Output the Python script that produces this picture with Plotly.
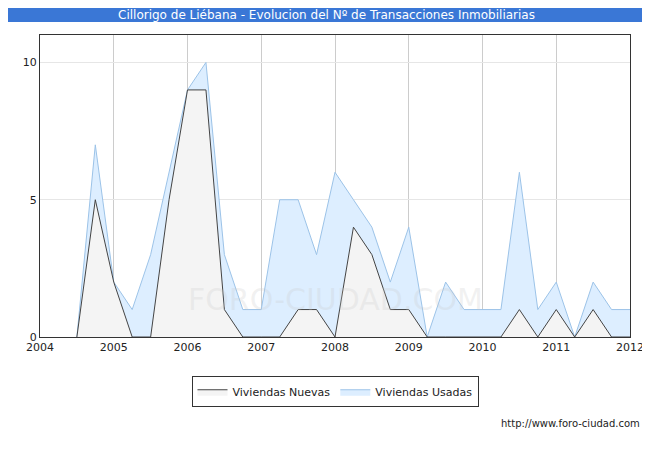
import plotly.graph_objects as go

quarters = [2004.5 + 0.25 * i for i in range(31)]
usadas = [0, 7, 2, 1, 3, 6, 9, 10, 3, 1, 1, 5, 5, 3, 6, 5, 4, 2, 4, 0, 2, 1, 1, 1, 6, 1, 2, 0, 2, 1, 1]
nuevas = [0, 5, 2, 0, 0, 5, 9, 9, 1, 0, 0, 0, 1, 1, 0, 4, 3, 1, 1, 0, 0, 0, 0, 0, 1, 0, 1, 0, 1, 0, 0]
year_ticks = list(range(2004, 2013))

fig = go.Figure()
fig.add_trace(go.Scatter(
    x=quarters, y=usadas, name="Viviendas Usadas", mode="lines",
    fill="tozeroy", fillcolor="#ddeeff", line=dict(color="#9cc3e8", width=1)
))
fig.add_trace(go.Scatter(
    x=quarters, y=nuevas, name="Viviendas Nuevas", mode="lines",
    fill="tozeroy", fillcolor="#f4f4f4", line=dict(color="#444444", width=1)
))

fig.update_layout(
    width=650, height=450,
    margin=dict(l=32, r=28, t=27, b=121),
    paper_bgcolor="white", plot_bgcolor="white",
    font=dict(family="DejaVu Sans", size=11, color="#222222"),
    showlegend=True,
    legend=dict(orientation="h", x=0.5, xanchor="center", y=-0.13, yanchor="top",
                bordercolor="#333333", borderwidth=1, traceorder="reversed",
                font=dict(size=11)),
    shapes=[dict(type="rect", xref="paper", yref="paper", x0=-0.06, x1=1.06,
                 y0=1.043, y1=1.1, fillcolor="#3a77d6", line=dict(width=0), layer="below")],
    annotations=[
        dict(text="Cillorigo de Liébana - Evolucion del Nº de Transacciones Inmobiliarias",
             xref="paper", yref="paper", x=0.485, y=1.066, showarrow=False,
             font=dict(color="white", size=12), yanchor="middle"),
        dict(text="http://www.foro-ciudad.com", xref="paper", yref="paper",
             x=1.02, y=-0.31, showarrow=False, xanchor="right",
             font=dict(size=10, color="#222222")),
        dict(text="FORO-CIUDAD.COM", xref="paper", yref="paper", x=0.5, y=0.06,
             showarrow=False, font=dict(size=30, color="rgba(200,200,200,0.25)")),
    ],
)
fig.update_xaxes(range=[2004, 2012], tickvals=year_ticks, ticktext=[str(y) for y in year_ticks],
                 showgrid=True, gridcolor="#cccccc", showline=True, linecolor="#333333",
                 mirror=True, zeroline=False, ticks="", fixedrange=True)
fig.update_yaxes(range=[0, 11], tickvals=[0, 5, 10], showgrid=True, gridcolor="#e6e6e6",
                 showline=True, linecolor="#333333", mirror=True, zeroline=False, ticks="")

fig.write_html("out.html")
